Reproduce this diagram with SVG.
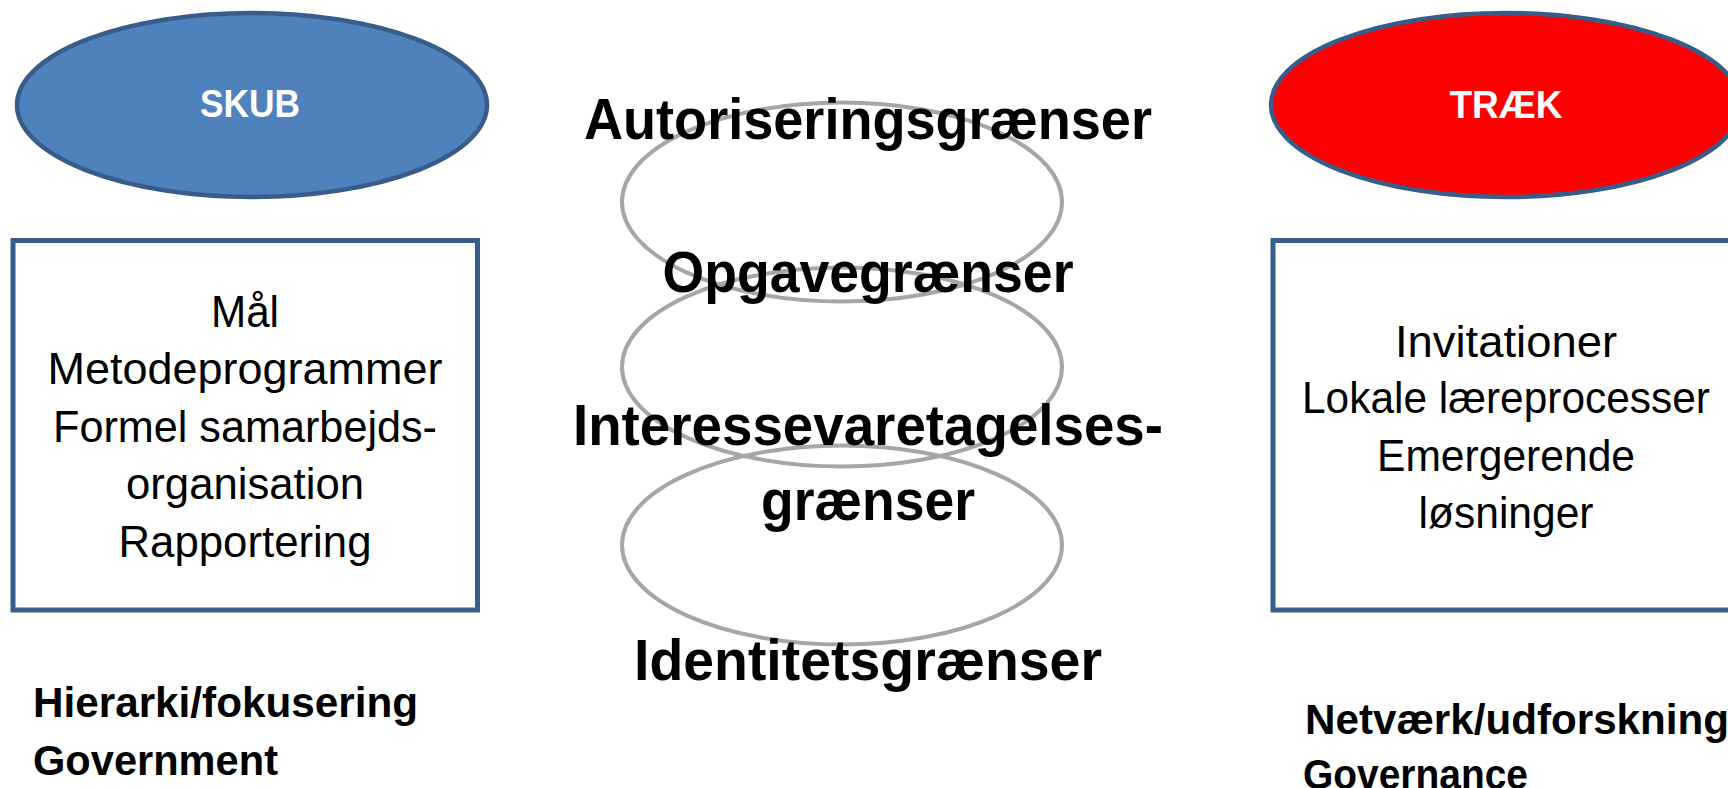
<svg xmlns="http://www.w3.org/2000/svg" width="1728" height="788" viewBox="0 0 1728 788">
<style>
text{font-family:"Liberation Sans",Arial,sans-serif;fill:#000}
.head{font-size:39px;font-weight:bold;fill:#fff;text-anchor:middle}
.big{font-size:58px;font-weight:bold;text-anchor:middle}
.item{font-size:44px;text-anchor:middle}
.lab{font-size:42px;font-weight:bold}
.ring{fill:none;stroke:#A6A6A6;stroke-width:4}
.box{fill:#fff;stroke:#385D8A;stroke-width:5}
.oval{stroke:#385D8A;stroke-width:4.5}
</style>
<rect width="1728" height="788" fill="#fff"/>
<g id="rings">
<ellipse class="ring" cx="842" cy="202" rx="220" ry="99.5"/>
<ellipse class="ring" cx="842" cy="367" rx="220" ry="99.5"/>
<ellipse class="ring" cx="842" cy="545" rx="220" ry="99.5"/>
</g>
<g id="boundaries">
<text class="big" x="868" y="139" textLength="568" lengthAdjust="spacingAndGlyphs">Autoriseringsgrænser</text>
<text class="big" x="868" y="292" textLength="411" lengthAdjust="spacingAndGlyphs">Opgavegrænser</text>
<text class="big" x="868" y="445" textLength="590" lengthAdjust="spacingAndGlyphs">Interessevaretagelses-</text>
<text class="big" x="868" y="520" textLength="214" lengthAdjust="spacingAndGlyphs">grænser</text>
<text class="big" x="868" y="680" textLength="468" lengthAdjust="spacingAndGlyphs">Identitetsgrænser</text>
</g>
<g id="skub">
<ellipse class="oval" cx="252" cy="105" rx="235" ry="92" fill="#4F81BD"/>
<text class="head" x="250" y="117" textLength="100" lengthAdjust="spacingAndGlyphs">SKUB</text>
</g>
<g id="traek">
<ellipse class="oval" cx="1506" cy="105" rx="235" ry="92" fill="#FF0000"/>
<text class="head" x="1506" y="118" textLength="113" lengthAdjust="spacingAndGlyphs">TRÆK</text>
</g>
<g id="skub-box">
<rect class="box" x="13" y="240.5" width="464.5" height="369.5"/>
<text class="item" x="245" y="327" textLength="68" lengthAdjust="spacingAndGlyphs">Mål</text>
<text class="item" x="245" y="384" textLength="395" lengthAdjust="spacingAndGlyphs">Metodeprogrammer</text>
<text class="item" x="245" y="442" textLength="384" lengthAdjust="spacingAndGlyphs">Formel samarbejds-</text>
<text class="item" x="245" y="499" textLength="238" lengthAdjust="spacingAndGlyphs">organisation</text>
<text class="item" x="245" y="557" textLength="253" lengthAdjust="spacingAndGlyphs">Rapportering</text>
</g>
<g id="traek-box">
<rect class="box" x="1273" y="240.5" width="470" height="369.5"/>
<text class="item" x="1506" y="357" textLength="222" lengthAdjust="spacingAndGlyphs">Invitationer</text>
<text class="item" x="1506" y="413" textLength="408" lengthAdjust="spacingAndGlyphs">Lokale læreprocesser</text>
<text class="item" x="1506" y="471" textLength="258" lengthAdjust="spacingAndGlyphs">Emergerende</text>
<text class="item" x="1506" y="528" textLength="175" lengthAdjust="spacingAndGlyphs">løsninger</text>
</g>
<g id="skub-label">
<text class="lab" x="33" y="717" textLength="385" lengthAdjust="spacingAndGlyphs">Hierarki/fokusering</text>
<text class="lab" x="33" y="775" textLength="245" lengthAdjust="spacingAndGlyphs">Government</text>
</g>
<g id="traek-label">
<text class="lab" x="1305" y="734" textLength="424" lengthAdjust="spacingAndGlyphs">Netværk/udforskning</text>
<text class="lab" x="1303" y="789" textLength="225" lengthAdjust="spacingAndGlyphs">Governance</text>
</g>
</svg>
